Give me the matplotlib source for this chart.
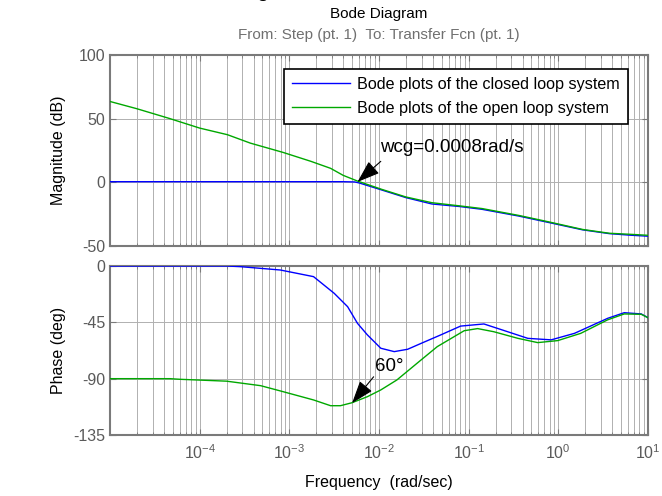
import numpy as np
import matplotlib
matplotlib.use("Agg")
import matplotlib.pyplot as plt
from matplotlib.ticker import LogLocator, NullFormatter, FixedLocator

plt.rcParams['font.family'] = ['Liberation Sans', 'DejaVu Sans']
plt.rcParams['axes.unicode_minus'] = False

# ---- data (log10 of frequency, rad/s) ----
mag_open_logf = [-5.0, -4.70, -4.33, -4.0, -3.69, -3.435, -3.07, -2.76, -2.54, -2.40, -2.24,
                 -1.97, -1.70, -1.41, -1.10, -0.85, -0.44, -0.11, 0.27, 0.57, 0.80, 1.0]
mag_open_db = [63.5, 57.8, 50.0, 42.6, 37.4, 30.8, 23.5, 16.5, 11.0, 5.5, 1.0,
               -5.5, -11.5, -16.0, -18.5, -20.6, -26.0, -31.0, -37.0, -40.0, -40.8, -41.6]

mag_closed_logf = [-5.0, -4.0, -3.0, -2.40, -2.27, -2.22, -1.97, -1.70, -1.41, -1.10, -0.85,
                   -0.44, -0.11, 0.27, 0.57, 0.80, 1.0]
mag_closed_db = [0.5, 0.5, 0.5, 0.5, 0.3, -0.5, -6.0, -12.0, -17.0, -19.0, -21.2,
                 -26.5, -31.5, -37.3, -40.3, -41.5, -42.3]

ph_closed_logf = [-5.0, -3.70, -3.55, -3.10, -2.73, -2.50, -2.35, -2.24, -2.13, -1.98, -1.83,
                  -1.68, -1.53, -1.31, -1.09, -0.83, -0.68, -0.34, -0.08, 0.18, 0.55, 0.735,
                  0.925, 1.0]
ph_closed_deg = [0.0, 0.0, -0.5, -3.2, -8.5, -21.8, -32.5, -45.8, -55.0, -65.7, -68.4,
                 -66.5, -61.8, -55.0, -48.0, -46.3, -49.8, -57.8, -59.0, -53.8, -41.8, -37.3,
                 -38.3, -41.3]

ph_open_logf = [-5.0, -4.33, -4.22, -3.70, -3.32, -3.10, -2.73, -2.54, -2.43, -2.30, -2.13,
                -1.98, -1.80, -1.53, -1.35, -1.05, -0.90, -0.72, -0.45, -0.23, -0.007, 0.25,
                0.55, 0.735, 0.925, 1.0]
ph_open_deg = [-90.0, -90.0, -90.5, -92.0, -95.6, -99.8, -107.0, -111.6, -111.6, -109.2, -104.4,
               -99.0, -91.0, -75.0, -64.4, -51.7, -50.0, -52.5, -57.8, -61.2, -59.6, -53.8,
               -43.0, -38.3, -38.6, -41.3]

legend_labels = ["Bode plots of the closed loop system", "Bode plots of the open loop system"]
mag_yticks = [-50, 0, 50, 100]
ph_yticks = [-135, -90, -45, 0]
xticks_major = [1e-4, 1e-3, 1e-2, 1e-1, 1e0, 1e1]

BLUE = '#0000ff'
GREEN = '#00a800'
GRAY_TXT = '#5a5a5a'
SPINE = '#7a7a7a'
GRID = '#b0b0b0'

fig = plt.figure(figsize=(6.62, 4.96), dpi=100)
W, H = 662, 496
def rect(l, t, r, b):
    return [l / W, 1 - b / H, (r - l) / W, (b - t) / H]

ax1 = fig.add_axes(rect(110, 55, 648, 246))
ax2 = fig.add_axes(rect(110, 266, 648, 435))

def f(logs):
    return 10 ** np.asarray(logs)

ax1.plot(f(mag_closed_logf), mag_closed_db, color=BLUE, lw=1.0, label=legend_labels[0], zorder=3)
ax1.plot(f(mag_open_logf), mag_open_db, color=GREEN, lw=1.0, label=legend_labels[1], zorder=3)
ax2.plot(f(ph_closed_logf), ph_closed_deg, color=BLUE, lw=1.0, zorder=3)
ax2.plot(f(ph_open_logf), ph_open_deg, color=GREEN, lw=1.0, zorder=3)

for ax, yt in ((ax1, mag_yticks), (ax2, ph_yticks)):
    ax.set_xscale('log')
    ax.set_xlim(1e-5, 10)
    ax.set_ylim(yt[0], yt[-1])
    ax.set_yticks(yt)
    ax.xaxis.set_major_locator(FixedLocator(xticks_major))
    ax.xaxis.set_minor_locator(LogLocator(base=10, subs=np.arange(2, 10), numticks=20))
    ax.xaxis.set_minor_formatter(NullFormatter())
    ax.grid(True, which='major', axis='both', color=GRID, lw=0.7, ls='-')
    ax.grid(True, which='minor', axis='x', color=GRID, lw=0.7, ls='-')
    ax.tick_params(which='both', direction='in', top=True, right=True, colors=SPINE,
                   labelcolor=GRAY_TXT, labelsize=11.5)
    ax.tick_params(which='major', length=4)
    ax.tick_params(which='minor', length=2.5)
    for s in ax.spines.values():
        s.set_color(SPINE)
        s.set_linewidth(1.5)

ax1.tick_params(labelbottom=False)
ax2.tick_params(axis='x', pad=6)

leg = ax1.legend(loc='upper right', bbox_to_anchor=(0.963, 0.927), borderaxespad=0,
                 fontsize=11.6, fancybox=False, framealpha=1, edgecolor='black',
                 handlelength=3.6, handletextpad=0.45, labelspacing=0.55, borderpad=0.5)
leg.get_frame().set_linewidth(1.2)

arrow_kw = dict(arrowstyle='-|>,head_length=1.0,head_width=0.35', color='black', lw=0.8,
                mutation_scale=14, shrinkA=0, shrinkB=0)
ax1.annotate('', xy=(10 ** -2.24, 0.3), xytext=(10 ** -1.98, 16.5), arrowprops=arrow_kw, zorder=5)
ax1.text(10 ** -1.985, 27, 'wcg=0.0008rad/s', fontsize=13.5, va='center', ha='left', zorder=5)
ax2.annotate('', xy=(10 ** -2.30, -109.5), xytext=(10 ** -2.06, -88.5), arrowprops=arrow_kw, zorder=5)
ax2.text(10 ** -2.04, -80.5, '60\u00b0', fontsize=13.5, va='center', ha='left', zorder=5)

fig.text(59 / W, 1 - 150 / H, 'Magnitude (dB)', rotation=90, ha='center', va='center', fontsize=11.5)
fig.text(59 / W, 1 - 350 / H, 'Phase (deg)', rotation=90, ha='center', va='center', fontsize=11.5)
fig.text(379 / W, 1 - 483 / H, 'Frequency  (rad/sec)', ha='center', va='center', fontsize=11.5)
fig.text(379 / W, 1 - 14 / H, 'Bode Diagram', ha='center', va='center', fontsize=11)
fig.text(379 / W, 1 - 35 / H, 'From: Step (pt. 1)  To: Transfer Fcn (pt. 1)', ha='center',
         va='center', fontsize=11, color='#707070')
fig.text(262 / W, 1 - (-4) / H, 'g', ha='center', va='baseline', fontsize=16)

fig.savefig('out.png', dpi=100)
